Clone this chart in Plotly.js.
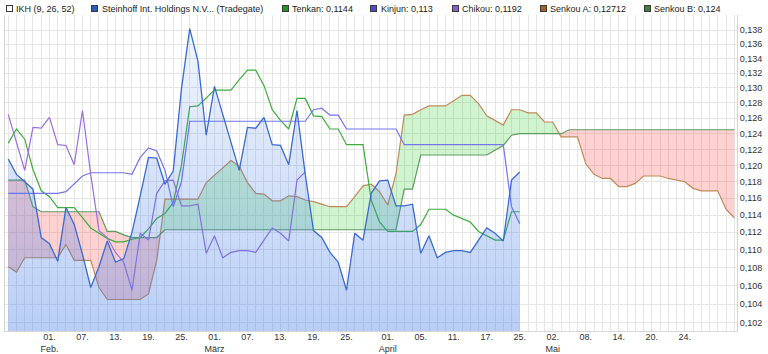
<!DOCTYPE html>
<html>
<head>
<meta charset="utf-8">
<script src="https://cdn.plot.ly/plotly-3.0.1.min.js"></script>
<style>
  html, body { margin: 0; padding: 0; background: #fff; }
  #chart { width: 768px; height: 354px; }
</style>
</head>
<body>
<div id="chart"></div>
<script>
// ---- x axis: trading-day index (0 = 01. Feb. 2019) ----
const firstIdx = -5;            // 25 Jan 2019
const tickIdx  = [0, 4, 8, 12, 16, 20, 24, 28, 32, 36, 41, 45, 49, 53, 57, 61, 65, 69, 73, 77];
const tickText = ['01.<br>Feb.', '07.', '13.', '19.', '25.', '01.<br>März', '07.', '13.', '19.', '25.',
                  '01.<br>April', '05.', '11.', '17.', '25.', '02.<br>Mai', '08.', '14.', '20.', '24.'];
const yTicks = [0.102, 0.104, 0.106, 0.108, 0.110, 0.112, 0.114, 0.116, 0.118, 0.120,
                0.122, 0.124, 0.126, 0.128, 0.130, 0.132, 0.134, 0.136, 0.138];

// ---- series ----
// Steinhoff Int. Holdings (Tradegate), idx -5 .. 57
const price = [0.1208, 0.1189, 0.1180, 0.1171, 0.1114,
  0.1107, 0.1087, 0.1149, 0.1129, 0.1095, 0.1058, 0.1081, 0.1110, 0.1086, 0.1090,
  0.1120, 0.1163, 0.1210, 0.1209, 0.1177, 0.1193, 0.1299, 0.1382, 0.1336, 0.1238,
  0.1302, 0.1265, 0.1228, 0.1194, 0.1248, 0.1247, 0.1261, 0.1226, 0.1225, 0.1201,
  0.1270, 0.1189, 0.1122, 0.1114, 0.1097, 0.1086, 0.1055, 0.1119, 0.1111, 0.1166,
  0.1181, 0.1182, 0.1151, 0.1151, 0.1153, 0.1096, 0.1116, 0.1091, 0.1097, 0.1099,
  0.1099, 0.1097, 0.1111, 0.1125, 0.1119, 0.1110, 0.1182, 0.1192];
// Tenkan, idx -5 .. 57
const tenkan = [0.1228, 0.1246, 0.1233, 0.1195, 0.1169,
  0.1162, 0.1149, 0.1149, 0.1149, 0.1137, 0.1125, 0.1119, 0.1113, 0.1109, 0.1109,
  0.1112, 0.1114, 0.1124, 0.1136, 0.1142, 0.1155, 0.1200, 0.1275, 0.1276, 0.1287,
  0.1297, 0.1297, 0.1297, 0.1311, 0.1324, 0.1324, 0.1303, 0.1271, 0.1257, 0.1246,
  0.1286, 0.1286, 0.1263, 0.1262, 0.1246, 0.1246, 0.1226, 0.1226, 0.1226, 0.1158,
  0.1132, 0.1121, 0.1121, 0.1121, 0.1121, 0.1129, 0.1147, 0.1147, 0.1147, 0.1140,
  0.1136, 0.1132, 0.1121, 0.1116, 0.1111, 0.1111, 0.1144, 0.1144];
// Kinjun, idx -5 .. 57
const kinjun = [0.1166, 0.1166, 0.1166, 0.1166, 0.1166,
  0.1166, 0.1166, 0.1168, 0.1177, 0.1187, 0.1191, 0.1191, 0.1191, 0.1191, 0.1191,
  0.1189, 0.1210, 0.1222, 0.1218, 0.1194, 0.1150, 0.1180, 0.1256, 0.1256, 0.1256,
  0.1256, 0.1256, 0.1256, 0.1256, 0.1256, 0.1256, 0.1256, 0.1256, 0.1256, 0.1256,
  0.1256, 0.1256, 0.1271, 0.1273, 0.1264, 0.1264, 0.1246, 0.1246, 0.1246, 0.1246,
  0.1246, 0.1246, 0.1246, 0.1226, 0.1226, 0.1226, 0.1226, 0.1226, 0.1226, 0.1226,
  0.1226, 0.1226, 0.1226, 0.1226, 0.1226, 0.1226, 0.1150, 0.1130];
// Chikou, idx -5 .. 31
const chikou = [0.1265, 0.1228, 0.1194, 0.1248, 0.1247,
  0.1261, 0.1226, 0.1225, 0.1201, 0.1270, 0.1189, 0.1122, 0.1114, 0.1097, 0.1086,
  0.1055, 0.1119, 0.1111, 0.1166, 0.1181, 0.1182, 0.1151, 0.1151, 0.1153, 0.1096,
  0.1116, 0.1091, 0.1097, 0.1099, 0.1099, 0.1097, 0.1111, 0.1125, 0.1119, 0.1110,
  0.1182, 0.1192];
// Senkou A, idx -5 .. 83
const senkouA = [0.1081, 0.1075, 0.1091, 0.1091, 0.1091,
  0.1091, 0.1091, 0.1106, 0.1088, 0.1088, 0.1088, 0.1058, 0.1045, 0.1045, 0.1045,
  0.1045, 0.1045, 0.1051, 0.1088, 0.1159, 0.1159, 0.1159, 0.1159, 0.1159, 0.1179,
  0.1188, 0.1197, 0.1206, 0.1199, 0.1179, 0.1166, 0.1165, 0.1157, 0.1157, 0.1163,
  0.1162, 0.1158, 0.1156, 0.1153, 0.1150, 0.1150, 0.1150, 0.1162, 0.1175, 0.1177,
  0.1168, 0.1152, 0.1190, 0.1264, 0.1265, 0.1271, 0.1276, 0.1276, 0.1276, 0.1283,
  0.1290, 0.1290, 0.1279, 0.1263, 0.1257, 0.1251, 0.1271, 0.1271, 0.1267, 0.1267,
  0.1255, 0.1255, 0.1236, 0.1236, 0.1236, 0.1202, 0.1189, 0.1184, 0.1184, 0.1174,
  0.1174, 0.1178, 0.1187, 0.1187, 0.1187, 0.1184, 0.1182, 0.1180, 0.1172, 0.1169,
  0.1169, 0.1169, 0.1147, 0.1137];
// Senkou B, idx -5 .. 83
const senkouB = [0.1182, 0.1182, 0.1182, 0.1150, 0.1144,
  0.1144, 0.1144, 0.1144, 0.1144, 0.1144, 0.1144, 0.1144, 0.1121, 0.1121, 0.1117,
  0.1114, 0.1114, 0.1114, 0.1114, 0.1123, 0.1123, 0.1123, 0.1123, 0.1123, 0.1123,
  0.1123, 0.1123, 0.1123, 0.1123, 0.1123, 0.1123, 0.1123, 0.1123, 0.1123, 0.1123,
  0.1123, 0.1123, 0.1123, 0.1123, 0.1123, 0.1123, 0.1123, 0.1123, 0.1123, 0.1123,
  0.1123, 0.1123, 0.1123, 0.1171, 0.1171, 0.1213, 0.1213, 0.1213, 0.1213, 0.1213,
  0.1213, 0.1213, 0.1213, 0.1213, 0.1219, 0.1225, 0.1238, 0.1240, 0.1240, 0.1240,
  0.1240, 0.1240, 0.1240, 0.1245, 0.1245, 0.1245, 0.1245, 0.1245, 0.1245, 0.1245,
  0.1245, 0.1245, 0.1245, 0.1245, 0.1245, 0.1245, 0.1245, 0.1245, 0.1245, 0.1245,
  0.1245, 0.1245, 0.1245, 0.1245];

// legend
const legendNames = ['IKH (9, 26, 52)', 'Steinhoff Int. Holdings N.V... (Tradegate)', 'Tenkan: 0,1144',
                     'Kinjun: 0,113', 'Chikou: 0,1192', 'Senkou A: 0,12712', 'Senkou B: 0,124'];
const legendColors = ['#ffffff', '#2a5cb8', '#1f9a1f', '#4b4bd8', '#8a5ccc', '#a8601e', '#3c803c'];

// ---- helpers ----
const idx = (n) => Array.from({length: n}, (_, k) => firstIdx + k);
const xPrice = idx(price.length);
const xChikou = idx(chikou.length);
const xCloud = idx(senkouA.length);

function cloud(xs, a, b) {
  const g = {x: [], base: [], top: []}, r = {x: [], base: [], top: []};
  for (let k = 0; k < xs.length; k++) {
    g.x.push(xs[k]); g.base.push(b[k]); g.top.push(Math.max(a[k], b[k]));
    r.x.push(xs[k]); r.base.push(b[k]); r.top.push(Math.min(a[k], b[k]));
    if (k < xs.length - 1) {
      const d0 = Math.log10(a[k]) - Math.log10(b[k]);
      const d1 = Math.log10(a[k + 1]) - Math.log10(b[k + 1]);
      if (d0 * d1 < 0) {
        const t = d0 / (d0 - d1);
        const xc = xs[k] + t * (xs[k + 1] - xs[k]);
        const yc = Math.pow(10, Math.log10(b[k]) + t * (Math.log10(b[k + 1]) - Math.log10(b[k])));
        g.x.push(xc); g.base.push(yc); g.top.push(yc);
        r.x.push(xc); r.base.push(yc); r.top.push(yc);
      }
    }
  }
  return {g, r};
}
const cl = cloud(xCloud, senkouA, senkouB);
const noLine = {width: 0, color: 'rgba(0,0,0,0)'};

const traces = [
  {x: cl.g.x, y: cl.g.base, mode: 'lines', line: noLine, hoverinfo: 'skip'},
  {x: cl.g.x, y: cl.g.top, mode: 'lines', line: noLine, fill: 'tonexty', fillcolor: 'rgba(20,200,20,0.2)', hoverinfo: 'skip'},
  {x: cl.r.x, y: cl.r.base, mode: 'lines', line: noLine, hoverinfo: 'skip'},
  {x: cl.r.x, y: cl.r.top, mode: 'lines', line: noLine, fill: 'tonexty', fillcolor: 'rgba(255,30,30,0.2)', hoverinfo: 'skip'},
  {x: xCloud, y: senkouA, mode: 'lines', line: {color: '#c08a58', width: 1.2}},
  {x: xCloud, y: senkouB, mode: 'lines', line: {color: '#5f9a5f', width: 1.2}},
  {x: xPrice, y: tenkan, mode: 'lines', line: {color: '#3cae3c', width: 1.2}},
  {x: xPrice, y: kinjun, mode: 'lines', line: {color: '#7474ee', width: 1.2}},
  {x: xChikou, y: chikou, mode: 'lines', line: {color: '#9a6fdc', width: 1.2}},
  {x: xPrice, y: xPrice.map(() => 0.1), mode: 'lines', line: noLine, hoverinfo: 'skip'},
  {x: xPrice, y: price, mode: 'lines', line: {color: '#3a6bd0', width: 1.3},
   fill: 'tonexty', fillcolor: 'rgba(60,120,230,0.25)',
   fillgradient: {type: 'vertical', colorscale: [[0, 'rgba(60,120,230,0.37)'], [1, 'rgba(60,120,230,0.07)']]}}
];

// x ticks: a grid line on every trading day, labels on selected days
const allX = idx(89);
const allText = allX.map(v => { const p = tickIdx.indexOf(v); return p >= 0 ? tickText[p] : ''; });

// ---- layout ----
const L = 5, R = 31, T = 15, B = 23, W = 768 - L - R, H = 354 - T - B;
const px = v => (v - L) / W;
const legSquareX = [9, 94, 285, 373, 455, 543, 647];
const legTextX = [14, 100, 290, 379, 460, 548, 652];
const legY = (354 - B - 9) / H;
const annotations = [];
legendNames.forEach((name, k) => {
  annotations.push({xref: 'paper', yref: 'paper', x: px(legSquareX[k]), y: legY, xanchor: 'center', yanchor: 'middle',
    text: ' ', showarrow: false, width: 5, height: 5, bgcolor: legendColors[k], bordercolor: '#3a3a3a', borderwidth: 1, borderpad: 0,
    font: {size: 2}});
  annotations.push({xref: 'paper', yref: 'paper', x: px(legTextX[k]), y: legY, xanchor: 'left', yanchor: 'middle',
    text: name, showarrow: false, font: {size: 9, color: '#222'}});
});

const layout = {
  width: 768, height: 354,
  margin: {l: L, r: R, t: T, b: B, pad: 0},
  paper_bgcolor: '#ffffff', plot_bgcolor: '#ffffff',
  showlegend: false,
  separators: ',.',
  font: {family: 'Liberation Sans, Arial, sans-serif', size: 9, color: '#333'},
  xaxis: {range: [-5.39, 83.33], tickmode: 'array', tickvals: allX, ticktext: allText,
          showgrid: true, gridcolor: '#e6e6e6', gridwidth: 1, zeroline: false, ticks: '',
          ticklabelstandoff: -3,
          showline: true, linecolor: '#d6d6d6', linewidth: 1, tickfont: {size: 9, color: '#333'}, fixedrange: true},
  yaxis: {type: 'log', range: [-0.995, -0.8534], side: 'right', tickmode: 'array', tickvals: yTicks, tickformat: '.3f',
          showgrid: true, gridcolor: '#e6e6e6', gridwidth: 1, zeroline: false, ticks: '',
          showline: true, mirror: true, linecolor: '#d6d6d6', linewidth: 1, tickfont: {size: 9, color: '#333'}, fixedrange: true},
  annotations: annotations
};

Plotly.newPlot('chart', traces, layout, {staticPlot: true, displayModeBar: false});
</script>
</body>
</html>
